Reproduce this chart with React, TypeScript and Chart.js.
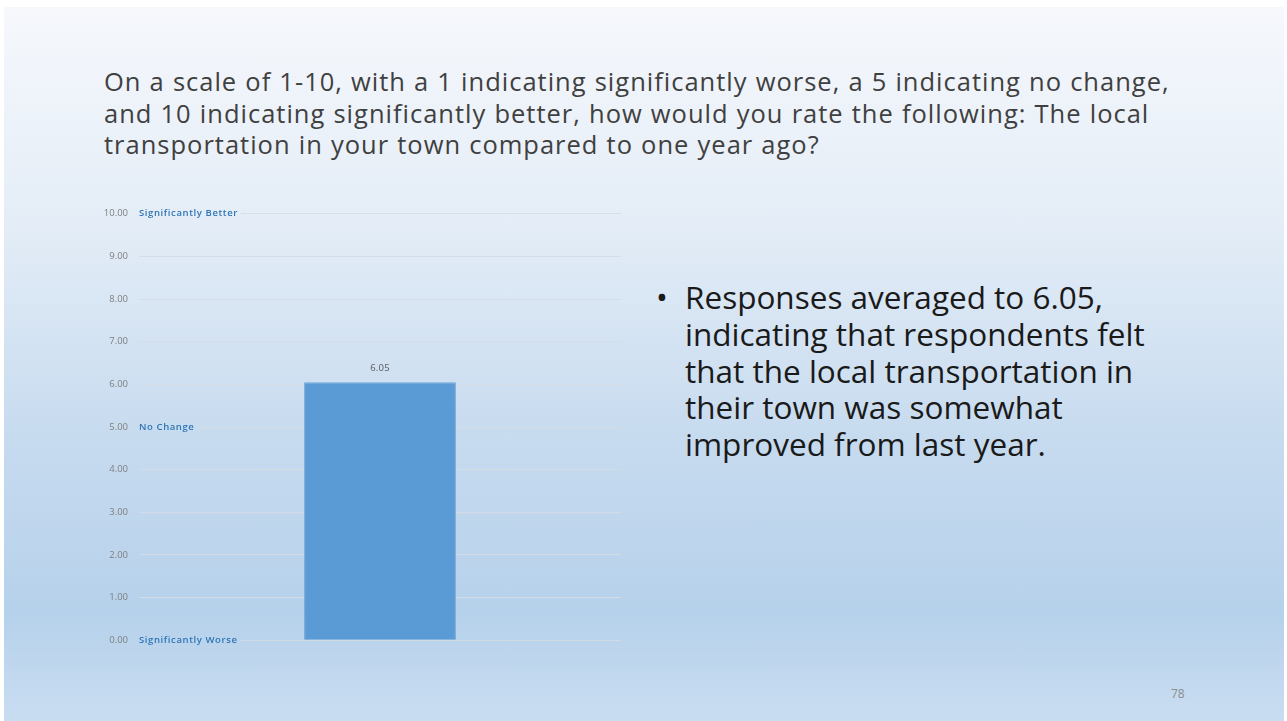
import React, { useEffect, useRef } from "react";
import { Chart, registerables } from "chart.js";

Chart.register(...registerables);

const categories = ["Local transportation"];
const averages = [6.05];
const yTicks = [0, 1, 2, 3, 4, 5, 6, 7, 8, 9, 10];
const scaleLabelValues = [10, 5, 0];
const scaleLabelTexts = ["Significantly Better", "No Change", "Significantly Worse"];

const titleLines = [
  "On a scale of 1-10, with a 1 indicating significantly worse, a 5 indicating no change,",
  "and 10 indicating significantly better, how would you rate the following: The local",
  "transportation in your town compared to one year ago?",
];
const bulletLines = [
  "Responses averaged to 6.05,",
  "indicating that respondents felt",
  "that the local transportation in",
  "their town was somewhat",
  "improved from last year.",
];
const pageNumber = "78";

const FONT = "'Open Sans', 'Noto Sans', sans-serif";

export default function App() {
  const canvasRef = useRef<HTMLCanvasElement | null>(null);

  useEffect(() => {
    const canvas = canvasRef.current;
    if (!canvas) return;

    const labelsPlugin = {
      id: "customLabels",
      afterDraw(chart: any) {
        const ctx = chart.ctx;
        const y = chart.scales.y;
        const left = chart.chartArea.left;
        ctx.save();
        ctx.font = `600 9.5px ${FONT}`;
        try {
          (ctx as any).letterSpacing = "0.6px";
        } catch (e) {}
        ctx.textBaseline = "middle";
        ctx.textAlign = "left";
        scaleLabelValues.forEach((v, i) => {
          const py = y.getPixelForValue(v);
          const w = ctx.measureText(scaleLabelTexts[i]).width;
          ctx.clearRect(left - 1, py - 3, w + 4, 6);
          ctx.fillStyle = "#2e75b6";
          ctx.fillText(scaleLabelTexts[i], left, py);
        });
        // data labels
        const meta = chart.getDatasetMeta(0);
        ctx.font = `9.5px ${FONT}`;
        try {
          (ctx as any).letterSpacing = "0.2px";
        } catch (e) {}
        ctx.fillStyle = "#595959";
        ctx.textAlign = "center";
        ctx.textBaseline = "bottom";
        meta.data.forEach((bar: any, i: number) => {
          ctx.fillText(averages[i].toFixed(2), bar.x, bar.y - 9);
        });
        ctx.restore();
      },
    };

    const chart = new Chart(canvas, {
      type: "bar",
      data: {
        labels: categories,
        datasets: [
          {
            data: averages,
            backgroundColor: "#5b9bd5",
            borderColor: "#70a8dc",
            borderWidth: 1,
            categoryPercentage: 0.63,
            barPercentage: 0.5,
          },
        ],
      },
      options: {
        responsive: false,
        maintainAspectRatio: false,
        animation: false,
        layout: { padding: { top: 11, right: 19, bottom: 16, left: 0 } },
        plugins: {
          legend: { display: false },
          tooltip: { enabled: false },
          title: { display: false },
        },
        scales: {
          x: {
            display: false,
          },
          y: {
            min: 0,
            max: 10,
            afterFit(scale: any) {
              scale.width = 59;
            },
            afterBuildTicks(scale: any) {
              scale.ticks = yTicks.map((v) => ({ value: v }));
            },
            border: { display: false },
            grid: {
              color: "rgba(214,220,228,0.9)",
              lineWidth: 1,
              drawTicks: false,
            },
            ticks: {
              padding: 11,
              color: "#7f7f7f",
              font: { family: FONT, size: 9.5 },
              callback: (v: any) => Number(v).toFixed(2),
            },
          },
        },
      },
      plugins: [labelsPlugin],
    });

    return () => chart.destroy();
  }, []);

  return (
    <div
      style={{
        position: "fixed",
        left: 0,
        top: 0,
        width: 1287,
        height: 721,
        background: "#ffffff",
        overflow: "hidden",
      }}
    >
      <div
        style={{
          position: "absolute",
          left: 4,
          top: 7,
          width: 1280,
          height: 714,
          background:
            "linear-gradient(to bottom, #f6f8fc 0%, #e4edf7 30%, #c7dbef 60%, #b6d1eb 85%, #c9ddf1 100%)",
        }}
      >
        <div
          style={{
            position: "absolute",
            left: 100,
            top: 59,
            fontFamily: FONT,
            fontSize: 25.5,
            lineHeight: "31.5px",
            color: "#404040",
            whiteSpace: "pre",
            letterSpacing: "1px",
            wordSpacing: "0.5px",
          }}
        >
          {titleLines.map((l, i) => (
            <div key={i}>{l}</div>
          ))}
        </div>
        <div
          style={{
            position: "absolute",
            left: 652,
            top: 272,
            fontFamily: FONT,
            fontSize: 31.5,
            lineHeight: "36.8px",
            color: "#1a1a1a",
            whiteSpace: "pre",
          }}
        >
          {bulletLines.map((l, i) => (
            <div key={i} style={{ position: "relative", paddingLeft: 29 }}>
              {i === 0 ? (
                <span style={{ position: "absolute", left: 0 }}>•</span>
              ) : null}
              {l}
            </div>
          ))}
        </div>
        <div
          style={{
            position: "absolute",
            left: 1167,
            top: 678,
            fontFamily: FONT,
            fontSize: 12,
            color: "#8c8c8c",
          }}
        >
          {pageNumber}
        </div>
        <canvas
          ref={canvasRef}
          width={560}
          height={460}
          style={{ position: "absolute", left: 76, top: 190, width: 560, height: 460 }}
        />
      </div>
    </div>
  );
}
